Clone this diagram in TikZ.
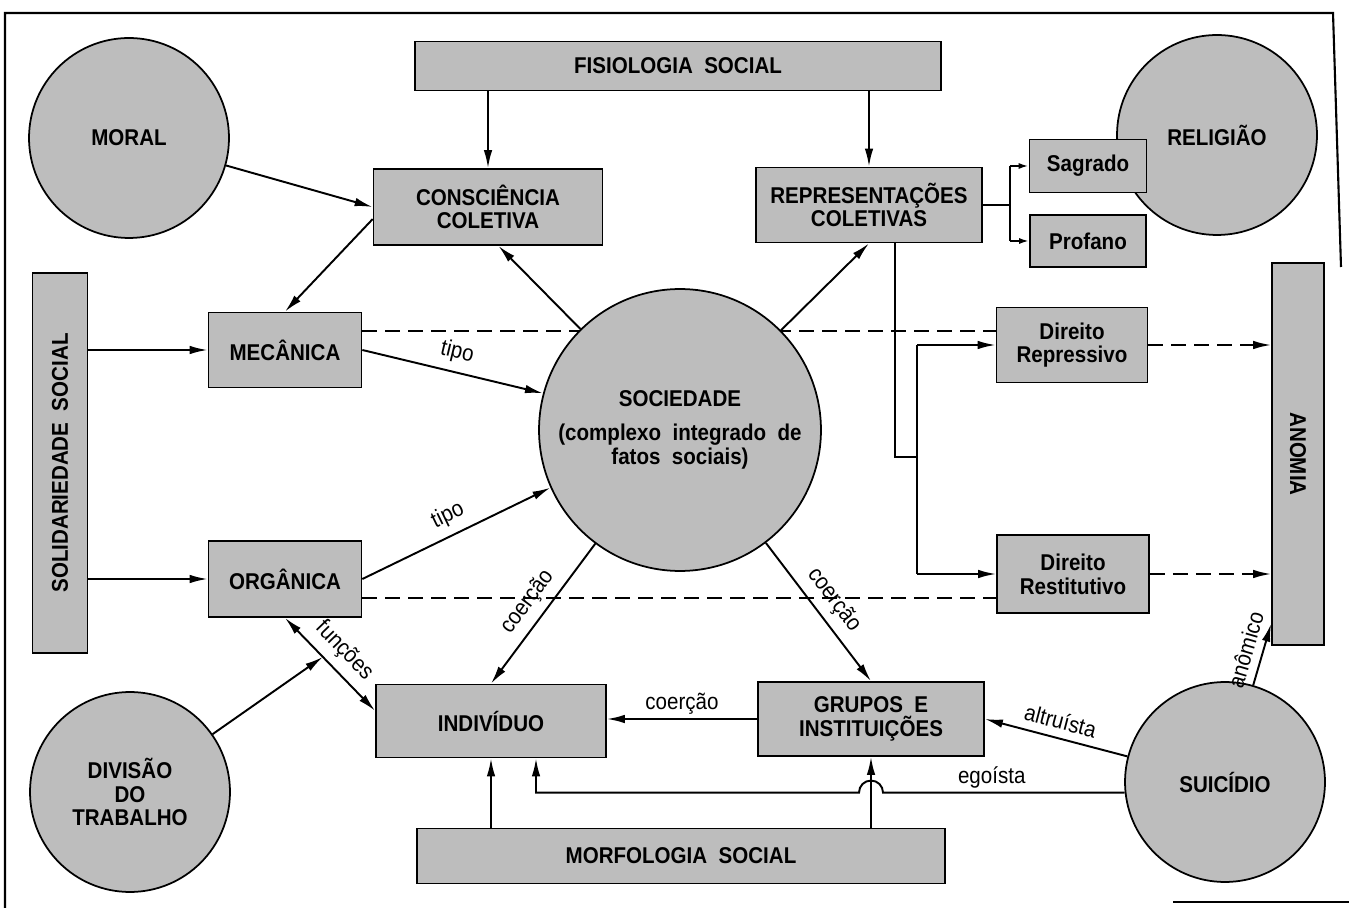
\documentclass[tikz,border=0pt]{standalone}
\usepackage{fontspec}
\setmainfont{Liberation Sans}[FakeStretch=0.9]
\usetikzlibrary{arrows.meta,calc,backgrounds}

\newcommand{\diagfont}{\fontsize{13}{13.5}\selectfont}

\tikzset{
  box/.style={draw, line width=1pt, fill=black!26, align=center, inner sep=1pt, font=\diagfont\bfseries},
  ball/.style={circle, draw, line width=1pt, fill=black!26, minimum size=4cm, inner sep=0pt, align=center, font=\diagfont\bfseries},
  arr/.style={line width=1.1pt, -{Latex[length=3.6mm,width=1.7mm]}},
  both/.style={line width=1.1pt, {Latex[length=3.6mm,width=1.7mm]}-{Latex[length=3.6mm,width=1.7mm]}},
  tip/.style={line width=1.1pt, -{Latex[length=2mm,width=1.2mm]}},
  link/.style={line width=1.1pt},
  dashline/.style={line width=1.1pt, dash pattern=on 3mm off 1.6mm},
  lbl/.style={font=\diagfont, inner sep=2pt},
  slbl/.style={lbl, sloped, above=2.5pt},
}

\begin{document}
\begin{tikzpicture}[x=0.02cm, y=-0.02cm]
\useasboundingbox (0,0) rectangle (1349,908);
% frame
\draw[line width=1.2pt] (1341,267) -- (1333,13) -- (5,13) -- (5,908);
\draw[line width=1.2pt] (1173,902) -- (1349,902);

% circles
\node[ball] (moral) at (129,138) {MORAL};
\node[ball] (religiao) at (1217,135) {RELIGIÃO};
\node[ball] (divisao) at (130,792) {DIVISÃO\\DO\\TRABALHO};
\node[ball] (suicidio) at (1225,782) {SUICÍDIO};
\node[ball, minimum size=5.64cm] (sociedade) at (680,430) {SOCIEDADE\\[6pt](complexo~~integrado~~de\\fatos~~sociais)};

% boxes
\node[box, minimum width=10.52cm, minimum height=0.98cm] (fisio) at (678,66) {FISIOLOGIA~~SOCIAL};
\node[box, minimum width=4.58cm, minimum height=1.52cm] (consc) at (488,207) {CONSCIÊNCIA\\COLETIVA};
\node[box, minimum width=4.52cm, minimum height=1.5cm] (repr) at (869,205) {REPRESENTAÇÕES\\COLETIVAS};
\node[box, minimum width=2.34cm, minimum height=1.06cm] (sagrado) at (1088,166) {Sagrado};
\node[box, minimum width=2.32cm, minimum height=1.04cm] (profano) at (1088,241) {Profano};
\node[box, minimum width=1.1cm, minimum height=7.6cm] (sol) at (60,463) {\rotatebox{90}{SOLIDARIEDADE~~SOCIAL}};
\node[box, minimum width=3.06cm, minimum height=1.5cm] (mecanica) at (285,350) {MECÂNICA};
\node[box, minimum width=3.06cm, minimum height=1.52cm] (organica) at (285,579) {ORGÂNICA};
\node[box, minimum width=3.02cm, minimum height=1.5cm] (repressivo) at (1072,345) {Direito\\Repressivo};
\node[box, minimum width=3.04cm, minimum height=1.56cm] (restitutivo) at (1073,574) {Direito\\Restitutivo};
\node[box, minimum width=1.04cm, minimum height=7.64cm] (anomia) at (1298,454) {\rotatebox{-90}{ANOMIA}};
\node[box, minimum width=4.6cm, minimum height=1.46cm] (individuo) at (491,721) {INDIVÍDUO};
\node[box, minimum width=4.52cm, minimum height=1.48cm] (grupos) at (871,719) {GRUPOS~~E\\INSTITUIÇÕES};
\node[box, minimum width=10.56cm, minimum height=1.1cm] (morfo) at (681,856) {MORFOLOGIA~~SOCIAL};

% dashed lines behind the circle
\begin{scope}[on background layer]
\draw[dashline] (mecanica.14) -- (mecanica.14 -| repressivo.west);
\draw[dashline] (organica.346) -- (organica.346 -| restitutivo.west);
\end{scope}

% top part
\draw[arr] (fisio.south -| consc) -- (consc.north);
\draw[arr] (fisio.south -| repr) -- (repr.north);
\draw[arr] (moral) -- (consc.west);
\draw[arr] (consc.186) -- (mecanica.north);
\draw[arr] (sociedade) -- (consc.285);
\draw[arr] (sociedade) -- (repr.south);
\draw[link] (repr.east) -- ++(27,0) coordinate (fork);
\draw[link] (fork |- sagrado) -- (fork |- profano);
\draw[tip] (fork |- sagrado) -- (sagrado.west);
\draw[tip] (fork |- profano) -- (profano.west);

% direito
\coordinate (split) at (917,457);
\draw[link] (repr.south) ++(26,0) |- (split);
\draw[link] (split |- repressivo) -- (split |- restitutivo);
\draw[arr] (split |- repressivo) -- (repressivo.west);
\draw[arr] (split |- restitutivo) -- (restitutivo.west);
\draw[arr, dashline] (repressivo.east) -- (repressivo.east -| anomia.west);
\draw[arr, dashline] (restitutivo.east) -- (restitutivo.east -| anomia.west);

% solidariedade
\draw[arr] (sol.east |- mecanica) -- (mecanica.west);
\draw[arr] (sol.east |- organica) -- (organica.west);
\draw[arr] (mecanica.east) -- node[slbl] {tipo} (sociedade.165);
\draw[arr] (organica.east) -- node[slbl] {tipo} (sociedade.204);
\draw[both] (organica.south) -- node[slbl] {funções} coordinate[pos=0.42] (fmid) (individuo.175);
\draw[arr] (divisao) -- (fmid);

% coercao
\draw[arr] (sociedade) -- node[slbl] {coerção} (individuo.north);
\draw[arr] (sociedade) -- node[slbl] {coerção} (grupos.north);
\draw[arr] (grupos.west) -- node[lbl, above] {coerção} (grupos.west -| individuo.east);

% suicidio
\draw[arr] (suicidio) -- node[slbl] {altruísta} (grupos.east);
\draw[arr] (suicidio) -- node[slbl] {anômico} (anomia.261);
\draw[arr] (suicidio.186) -- node[lbl, above, pos=0.55] {egoísta} ($(grupos |- suicidio.186)+(12,0)$)
  arc[start angle=0, end angle=-180, radius=12] -| ($(individuo.south)+(45,0)$);

% morfologia
\draw[arr] (morfo.north -| individuo) -- (individuo.south);
\draw[arr] (morfo.north -| grupos) -- (grupos.south);
\end{tikzpicture}
\end{document}
